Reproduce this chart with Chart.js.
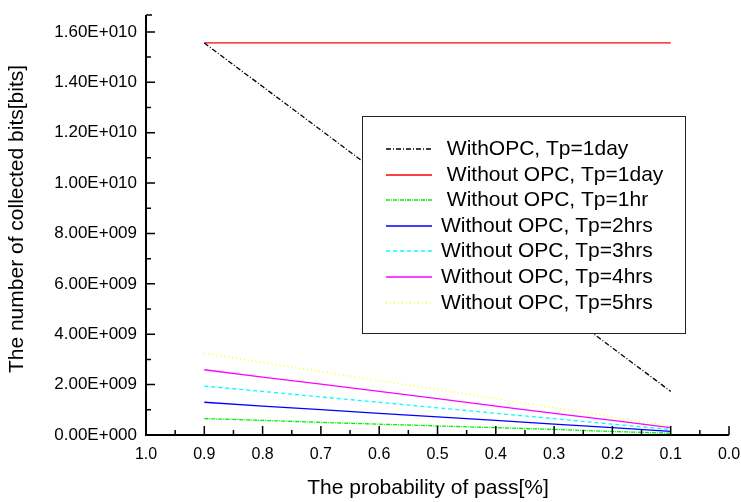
<!DOCTYPE html>
<html>
<head>
<meta charset="utf-8">
<script src="https://cdn.jsdelivr.net/npm/chart.js@4/dist/chart.umd.min.js"></script>
<style>
html, body { margin: 0; padding: 0; background: #fff; }
#wrap { width: 741px; height: 502px; }
</style>
</head>
<body>
<div id="wrap"><canvas id="chart" width="741" height="502"></canvas></div>
<script>
// Data
const probs = [0.9, 0.8, 0.7, 0.6, 0.5, 0.4, 0.3, 0.2, 0.1];
const withOpc1day = [1.556e10, 1.383e10, 1.210e10, 1.037e10, 0.864e10, 0.691e10, 0.519e10, 0.346e10, 0.173e10];
const noOpc1day = [1.556e10, 1.556e10, 1.556e10, 1.556e10, 1.556e10, 1.556e10, 1.556e10, 1.556e10, 1.556e10];
const noOpc1hr = [0.65e9, 0.58e9, 0.50e9, 0.43e9, 0.36e9, 0.29e9, 0.22e9, 0.14e9, 0.07e9];
const noOpc2hrs = [1.30e9, 1.15e9, 1.01e9, 0.86e9, 0.72e9, 0.58e9, 0.43e9, 0.29e9, 0.14e9];
const noOpc3hrs = [1.94e9, 1.73e9, 1.51e9, 1.30e9, 1.08e9, 0.86e9, 0.65e9, 0.43e9, 0.22e9];
const noOpc4hrs = [2.59e9, 2.30e9, 2.02e9, 1.73e9, 1.44e9, 1.15e9, 0.86e9, 0.58e9, 0.29e9];
const noOpc5hrs = [3.24e9, 2.88e9, 2.52e9, 2.16e9, 1.80e9, 1.44e9, 1.08e9, 0.72e9, 0.36e9];

const seriesLabels = [
	' WithOPC, Tp=1day',
	' Without OPC, Tp=1day',
	' Without OPC, Tp=1hr',
	'Without OPC, Tp=2hrs',
	'Without OPC, Tp=3hrs',
	'Without OPC, Tp=4hrs',
	'Without OPC, Tp=5hrs'
];

const xTicks = [1.0, 0.9, 0.8, 0.7, 0.6, 0.5, 0.4, 0.3, 0.2, 0.1, 0.0];
const xTickLabels = ['1.0', '0.9', '0.8', '0.7', '0.6', '0.5', '0.4', '0.3', '0.2', '0.1', '0.0'];
const yTicks = [0, 2e9, 4e9, 6e9, 8e9, 1e10, 1.2e10, 1.4e10, 1.6e10];
const yTickLabels = ['0.00E+000', '2.00E+009', '4.00E+009', '6.00E+009', '8.00E+009', '1.00E+010', '1.20E+010', '1.40E+010', '1.60E+010'];
const yMax = 1.667e10;

const xTitle = 'The probability of pass[%]';
const yTitle = 'The number of collected bits[bits]';

const FONT = '"Liberation Sans", Arial, Helvetica, sans-serif';

function pts(arr) {
	return probs.map((p, i) => ({ x: p, y: arr[i] }));
}

function ds(i, arr, color, dash) {
	return {
		label: seriesLabels[i],
		data: pts(arr),
		borderColor: color,
		backgroundColor: color,
		borderWidth: 1.3,
		borderDash: dash,
		pointRadius: 0,
		tension: 0,
		fill: false
	};
}

// axis lines, inward ticks, titles and boxed legend
const decorPlugin = {
	id: 'decor',
	afterDatasetsDraw(chart) {
		const { ctx, chartArea: a, scales: { x, y } } = chart;
		ctx.save();
		ctx.strokeStyle = '#000';
		ctx.lineWidth = 2;
		ctx.beginPath();
		ctx.moveTo(a.left, a.top);
		ctx.lineTo(a.left, a.bottom);
		ctx.lineTo(a.right, a.bottom);
		ctx.stroke();

		ctx.lineWidth = 1.5;
		ctx.beginPath();
		// top end cap of y axis
		ctx.moveTo(a.left, a.top);
		ctx.lineTo(a.left + 6, a.top);
		for (let i = 0; i < yTicks.length; i++) {
			const py = y.getPixelForValue(yTicks[i]);
			ctx.moveTo(a.left, py); ctx.lineTo(a.left + 9, py);
			const mid = yTicks[i] + 1e9;
			if (mid < yMax) {
				const pm = y.getPixelForValue(mid);
				ctx.moveTo(a.left, pm); ctx.lineTo(a.left + 5, pm);
			}
		}
		for (let i = 0; i < xTicks.length; i++) {
			const px = x.getPixelForValue(xTicks[i]);
			ctx.moveTo(px, a.bottom); ctx.lineTo(px, a.bottom - 9);
			if (i < xTicks.length - 1) {
				const pm = x.getPixelForValue(xTicks[i] - 0.05);
				ctx.moveTo(pm, a.bottom); ctx.lineTo(pm, a.bottom - 5);
			}
		}
		ctx.stroke();

		// axis titles
		ctx.fillStyle = '#000';
		ctx.font = '21px ' + FONT;
		ctx.textAlign = 'center';
		ctx.textBaseline = 'middle';
		ctx.fillText(xTitle, 428, 488);
		ctx.save();
		ctx.translate(17, 219);
		ctx.rotate(-Math.PI / 2);
		ctx.fillText(yTitle, 0, 0);
		ctx.restore();

		// legend box
		const bx = 362, by = 116, bw = 323, bh = 217;
		ctx.fillStyle = '#fff';
		ctx.fillRect(bx, by, bw, bh);
		ctx.strokeStyle = '#222';
		ctx.lineWidth = 1;
		ctx.strokeRect(bx + 0.5, by + 0.5, bw, bh);

		ctx.textAlign = 'left';
		ctx.font = '21px ' + FONT;
		chart.data.datasets.forEach((d, i) => {
			const ry = Math.round(149 + i * 25.6);
			ctx.strokeStyle = d.borderColor;
			ctx.lineWidth = 1.6;
			ctx.setLineDash(d.borderDash || []);
			ctx.beginPath();
			ctx.moveTo(386, ry);
			ctx.lineTo(432, ry);
			ctx.stroke();
			ctx.setLineDash([]);
			ctx.fillStyle = '#000';
			ctx.fillText(d.label, 441, ry);
		});
		ctx.restore();
	}
};

new Chart(document.getElementById('chart'), {
	type: 'line',
	data: {
		datasets: [
			ds(0, withOpc1day, '#000000', [5, 2, 1, 2]),
			ds(1, noOpc1day, '#ff0000', []),
			ds(2, noOpc1hr, '#00ee00', [4, 1, 1, 1]),
			ds(3, noOpc2hrs, '#0000ff', []),
			ds(4, noOpc3hrs, '#00ffff', [4, 3]),
			ds(5, noOpc4hrs, '#ff00ff', []),
			ds(6, noOpc5hrs, '#ffff00', [1, 3])
		]
	},
	options: {
		responsive: false,
		animation: false,
		layout: { padding: { top: 15, right: 12, left: 0, bottom: 0 } },
		plugins: { legend: { display: false }, tooltip: { enabled: false } },
		scales: {
			x: {
				type: 'linear',
				reverse: true,
				min: 0,
				max: 1,
				afterBuildTicks: (s) => { s.ticks = xTicks.map(v => ({ value: v })); },
				afterFit: (s) => { s.height = 67; s.paddingLeft = 0; s.paddingRight = 0; },
				grid: { display: false, drawTicks: false },
				border: { display: false },
				ticks: {
					padding: 10,
					color: '#000',
					font: { family: FONT, size: 16 },
					maxRotation: 0,
					autoSkip: false,
					callback: (v, i) => xTickLabels[i]
				}
			},
			y: {
				type: 'linear',
				min: 0,
				max: yMax,
				afterBuildTicks: (s) => { s.ticks = yTicks.map(v => ({ value: v })); },
				afterFit: (s) => { s.width = 146; s.paddingTop = 0; s.paddingBottom = 0; },
				grid: { display: false, drawTicks: false },
				border: { display: false },
				ticks: {
					padding: 9,
					color: '#000',
					font: { family: FONT, size: 17 },
					autoSkip: false,
					callback: (v, i) => yTickLabels[i]
				}
			}
		}
	},
	plugins: [decorPlugin]
});
</script>
</body>
</html>
